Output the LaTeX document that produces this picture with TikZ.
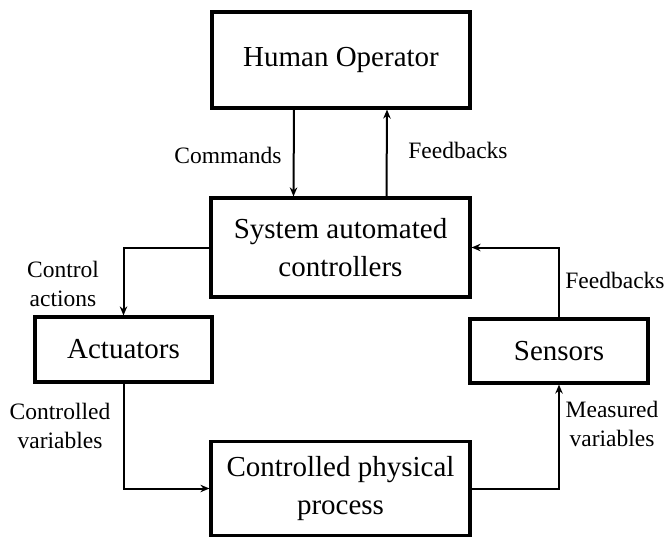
\documentclass[tikz,border=0pt]{standalone}
\usepackage{fontspec}
\setmainfont{Liberation Serif}
\usetikzlibrary{arrows.meta}
\begin{document}
\begin{tikzpicture}[x=1pt,y=-1pt,
  blk/.style={draw,line width=3.2pt,inner sep=0pt,align=center,
    font=\fontsize{29}{38}\selectfont},
  lbl/.style={align=center,inner sep=0pt,font=\fontsize{23.5}{29}\selectfont},
  arr/.style={line width=2pt,-{Stealth[length=9pt,width=7.5pt]}}]
\useasboundingbox (0,0) rectangle (670,538);
\node[blk,minimum width=258pt,minimum height=96pt] (ho) at (341,60) {Human Operator};
\node[blk,minimum width=259pt,minimum height=99pt] (sys) at (340.5,247.5) {System automated\\controllers};
\node[blk,minimum width=177pt,minimum height=65pt] (act) at (123.5,349.5) {Actuators};
\node[blk,minimum width=178pt,minimum height=64pt] (sen) at (559,351) {Sensors};
\node[blk,minimum width=259pt,minimum height=94pt] (proc) at (340.5,488.5) {Controlled physical\\process};
\draw[arr] ([xshift=-47pt]ho.south) -- ([xshift=-47pt]sys.north);
\draw[arr] ([xshift=46pt]sys.north) -- ([xshift=46pt]ho.south);
\draw[arr] (sys.west) -| (act.north);
\draw[arr] (sen.north) |- (sys.east);
\draw[arr] (act.south) |- (proc.west);
\draw[arr] (proc.east) -| (sen.south);
\node[lbl] (lcmd) at (228,155) {Commands};
\node[lbl] (lfb1) at (458,150) {Feedbacks};
\node[lbl] (lca) at (63,284) {Control\\actions};
\node[lbl] (lfb2) at (615,280) {Feedbacks};
\node[lbl] (lcv) at (60,426) {Controlled\\variables};
\node[lbl] (lmv) at (612,424) {Measured\\variables};
\end{tikzpicture}
\end{document}
